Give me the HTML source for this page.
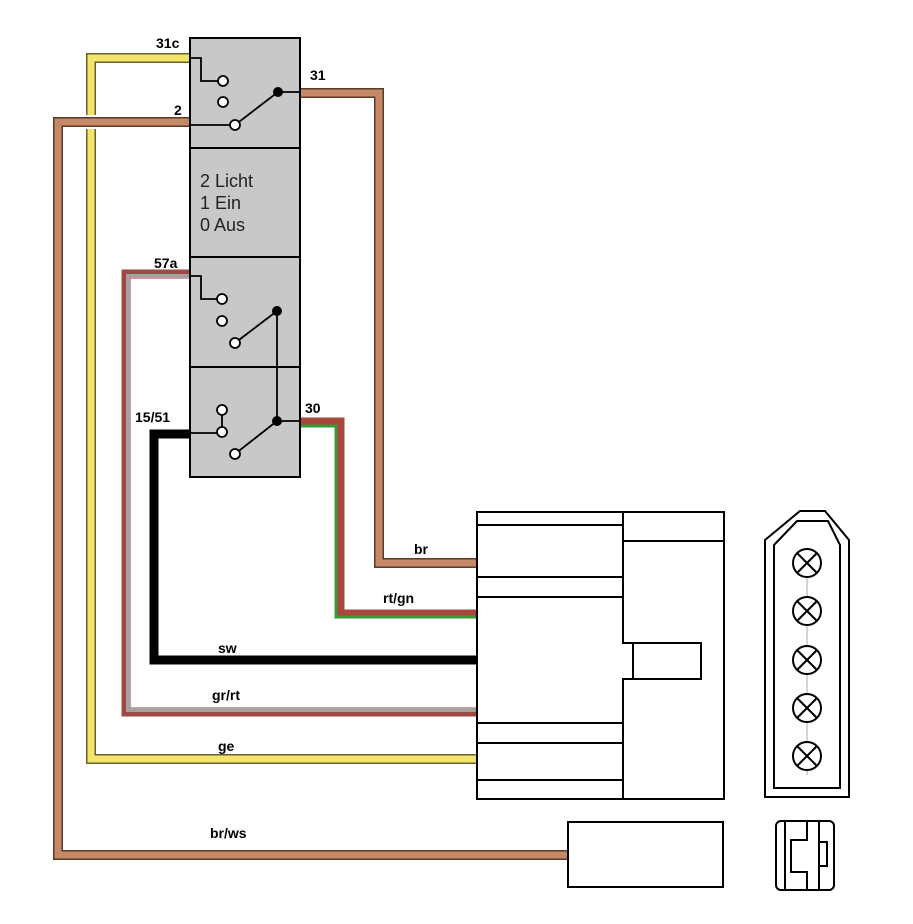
<!DOCTYPE html>
<html><head><meta charset="utf-8"><style>
html,body{margin:0;padding:0;background:#fff;}
svg{display:block;}
.lb{font-family:"Liberation Sans",sans-serif;font-weight:bold;font-size:14px;fill:#000;}
</style></head><body>
<svg width="913" height="924" viewBox="0 0 913 924" xmlns="http://www.w3.org/2000/svg">
<g fill="none" stroke-linejoin="miter">
<polyline points="190,58 91,58 91,759 477,759" stroke="#6b6030" stroke-width="10"/>
<polyline points="190,58 91,58 91,759 477,759" stroke="#f3e56a" stroke-width="7"/>
<polyline points="190,274 126,274 126,712 477,712" stroke="#9c4a44" stroke-width="9"/>
<polyline points="190,276 128,276 128,710 477,710" stroke="#a7a0a0" stroke-width="4"/>
<polyline points="190,434 154,434 154,660 477,660" stroke="#000" stroke-width="9"/>
<polyline points="300,422 340,422 340,614 477,614" stroke="#a8473c" stroke-width="9"/>
<polyline points="300,426 336,426 336,617 477,617" stroke="#3a9a3a" stroke-width="3"/>
<polyline points="300,93 379,93 379,563 477,563" stroke="#5a3a28" stroke-width="10"/>
<polyline points="300,93 379,93 379,563 477,563" stroke="#c48a68" stroke-width="7"/>
<polyline points="190,122 58,122 58,855 568,855" stroke="#fff" stroke-width="14"/>
<polyline points="190,122 58,122 58,855 568,855" stroke="#5a3a28" stroke-width="10"/>
<polyline points="190,122 58,122 58,855 568,855" stroke="#c48a68" stroke-width="7"/>
</g>
<rect x="190" y="38" width="110" height="439" fill="#c8c8c8" stroke="#000" stroke-width="2"/>
<g stroke="#000" stroke-width="2">
<line x1="190" y1="148" x2="300" y2="148"/>
<line x1="190" y1="257" x2="300" y2="257"/>
<line x1="190" y1="367" x2="300" y2="367"/>
</g>
<text x="200" y="187" font-family="Liberation Sans,sans-serif" font-size="18" fill="#222">2 Licht</text>
<text x="200" y="209" font-family="Liberation Sans,sans-serif" font-size="18" fill="#222">1 Ein</text>
<text x="200" y="231" font-family="Liberation Sans,sans-serif" font-size="18" fill="#222">0 Aus</text>
<g stroke="#000" stroke-width="1.8" fill="none">
<polyline points="190,58 201,58 201,81 218,81"/>
<line x1="190" y1="125" x2="230" y2="125"/>
<line x1="235" y1="125" x2="278" y2="92"/>
<line x1="278" y1="92" x2="300" y2="92"/>
<polyline points="190,276 201,276 201,299 217,299"/>
<line x1="235" y1="343" x2="277" y2="311"/>
<line x1="277" y1="311" x2="277" y2="421"/>
<line x1="222" y1="410" x2="222" y2="432"/>
<line x1="190" y1="433" x2="217" y2="433"/>
<line x1="235" y1="454" x2="277" y2="421"/>
<line x1="277" y1="421" x2="300" y2="421"/>
</g>
<g fill="#fff" stroke="#000" stroke-width="1.8">
<circle cx="223" cy="81" r="5"/><circle cx="223" cy="102" r="5"/><circle cx="235" cy="125" r="5"/>
<circle cx="222" cy="299" r="5"/><circle cx="222" cy="321" r="5"/><circle cx="235" cy="343" r="5"/>
<circle cx="222" cy="410" r="5"/><circle cx="222" cy="432" r="5"/><circle cx="235" cy="454" r="5"/>
</g>
<g fill="#000"><circle cx="278" cy="92" r="5"/><circle cx="277" cy="311" r="5"/><circle cx="277" cy="421" r="5"/></g>
<text class="lb" x="156" y="48">31c</text>
<text class="lb" x="310" y="80">31</text>
<text class="lb" x="174" y="115">2</text>
<text class="lb" x="154" y="268">57a</text>
<text class="lb" x="135" y="422">15/51</text>
<text class="lb" x="305" y="413">30</text>
<text class="lb" x="414" y="554">br</text>
<text class="lb" x="383" y="603">rt/gn</text>
<text class="lb" x="218" y="653">sw</text>
<text class="lb" x="212" y="700">gr/rt</text>
<text class="lb" x="218" y="751">ge</text>
<text class="lb" x="210" y="838">br/ws</text>
<g fill="none" stroke="#000" stroke-width="2">
<rect x="477" y="512" width="247" height="287" fill="#fff"/>
<polyline points="623,512 623,643 633,643 633,679 623,679 623,799"/>
<rect x="633" y="643" width="68" height="36"/>
<line x1="623" y1="541" x2="724" y2="541"/>
<line x1="477" y1="525" x2="623" y2="525"/>
<line x1="477" y1="577" x2="623" y2="577"/>
<line x1="477" y1="597" x2="623" y2="597"/>
<line x1="477" y1="723" x2="623" y2="723"/>
<line x1="477" y1="743" x2="623" y2="743"/>
<line x1="477" y1="780" x2="623" y2="780"/>
<polygon points="765,540 800,511 825,511 849,540 849,797 765,797"/>
<polygon points="774,545 797,521 828,521 840,545 840,788 774,788"/>
<rect x="568" y="822" width="155" height="65"/>
<rect x="776" y="821" width="58" height="69" rx="5"/>
<line x1="785" y1="822" x2="785" y2="889"/>
<polyline points="807,822 807,840 791,840 791,872 807,872 807,889"/>
<line x1="819" y1="822" x2="819" y2="889"/>
<rect x="819" y="842" width="8" height="24"/>
</g>
<g stroke="#000" stroke-width="2" fill="none">
<line x1="807" y1="548" x2="807" y2="775" stroke="#aaa" stroke-width="1"/>
<g id="l"><circle cx="807" cy="563" r="14" fill="#fff"/><line x1="797" y1="553" x2="817" y2="573"/><line x1="817" y1="553" x2="797" y2="573"/></g>
<use href="#l" y="48"/><use href="#l" y="97"/><use href="#l" y="145"/><use href="#l" y="193"/>
</g>
</svg>
</body></html>
